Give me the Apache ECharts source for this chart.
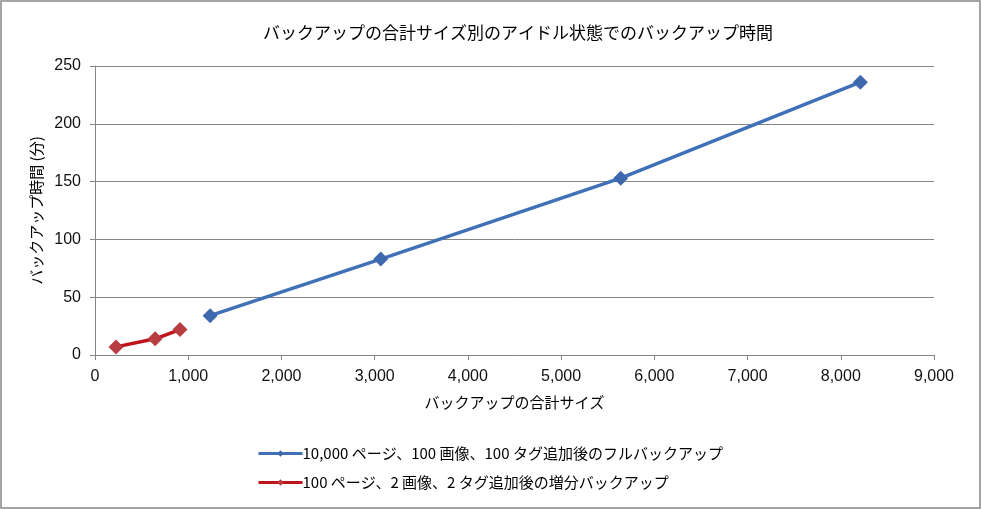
<!DOCTYPE html>
<html><head><meta charset="utf-8">
<script src="https://cdn.jsdelivr.net/npm/echarts@6/dist/echarts.min.js"></script>
<style>html,body{margin:0;padding:0;background:#fff}#c{width:982px;height:510px}</style>
</head><body><div id="c"></div>
<script>
const titleText = 'バックアップの合計サイズ別のアイドル状態でのバックアップ時間';
const xAxisName = 'バックアップの合計サイズ';
const yAxisName = 'バックアップ時間 (分)';
const fullName = '10,000 ページ、100 画像、100 タグ追加後のフルバックアップ';
const incName = '100 ページ、2 画像、2 タグ追加後の増分バックアップ';
const fullSize = [1235, 3065, 5640, 8210];
const fullTime = [34, 83, 153, 236];
const incSize = [225, 645, 912];
const incTime = [7, 14, 22];

const font = "'Noto Sans CJK JP', sans-serif";
const numFont = "'Liberation Sans', Arial, sans-serif";
const chart = echarts.init(document.getElementById('c'));
chart.setOption({
  animation: false,
  textStyle: {fontFamily: font},
  title: {text: titleText, left: 513, top: 19, textAlign: 'center',
    textStyle: {fontSize: 17, fontWeight: 'normal', color: '#000', fontFamily: font}},
  graphic: [{type: 'rect', shape: {x: 1, y: 1, width: 979, height: 507},
    style: {fill: 'none', stroke: '#868686', lineWidth: 1.5}, silent: true}],
  grid: {left: 95, right: 48, top: 66, bottom: 155, containLabel: false},
  xAxis: {type: 'value', min: 0, max: 9000, interval: 1000,
    name: xAxisName, nameLocation: 'middle', nameGap: 40,
    nameTextStyle: {fontSize: 15, color: '#000', fontFamily: font},
    axisLine: {show: true, lineStyle: {color: '#868686'}},
    axisTick: {show: true, length: 5, lineStyle: {color: '#868686'}},
    axisLabel: {fontSize: 16, color: '#111', margin: 14, fontFamily: numFont,
      formatter: v => v.toLocaleString('en-US')},
    splitLine: {show: false}},
  yAxis: {type: 'value', min: 0, max: 250, interval: 50,
    name: yAxisName, nameLocation: 'middle', nameGap: 50, nameRotate: 90,
    nameTextStyle: {fontSize: 15, color: '#000', fontFamily: font},
    axisLine: {show: true, lineStyle: {color: '#868686'}},
    axisTick: {show: true, length: 5, lineStyle: {color: '#868686'}},
    axisLabel: {fontSize: 16, color: '#111', margin: 14, fontFamily: numFont},
    splitLine: {show: true, lineStyle: {color: '#868686', width: 1}}},
  legend: {orient: 'vertical', left: 252, top: 441, itemGap: 14,
    itemWidth: 44, itemHeight: 8,
    lineStyle: {width: 3},
    textStyle: {fontSize: 15, color: '#000', fontFamily: font, padding: [0,0,0,-5]},
    data: [fullName, incName]},
  series: [
    {name: fullName, type: 'line', data: fullSize.map((x, i) => [x, fullTime[i]]),
      symbol: 'diamond', symbolSize: 15,
      lineStyle: {color: '#4070B8', width: 3.5},
      itemStyle: {color: '#3F69AE'}},
    {name: incName, type: 'line', data: incSize.map((x, i) => [x, incTime[i]]),
      symbol: 'diamond', symbolSize: 15,
      lineStyle: {color: '#C0141C', width: 3.5},
      itemStyle: {color: '#B83D40'}}
  ]
});
</script></body></html>
